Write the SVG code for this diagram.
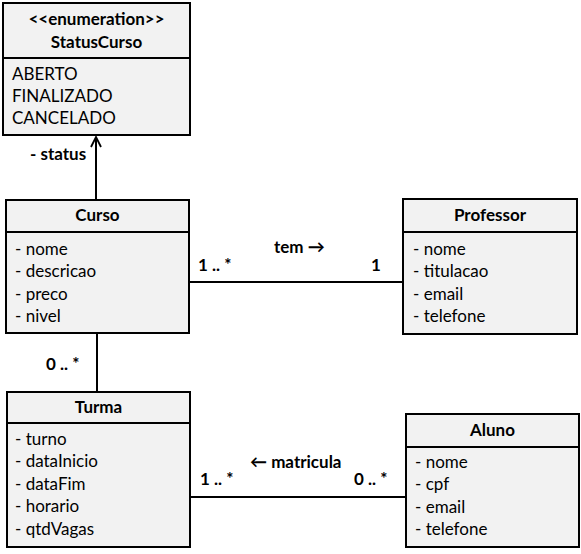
<svg xmlns="http://www.w3.org/2000/svg" width="581" height="554" viewBox="0 0 581 554">
<defs>
<style>
.box{fill:#f2f2f2;stroke:#000;stroke-width:2}
.sep{stroke:#000;stroke-width:2}
.t{font-family:Lato,"Liberation Sans",sans-serif;font-size:17px;fill:#000}
.b{font-weight:bold;font-size:17px}
.c{text-anchor:middle}
.line{stroke:#000;stroke-width:2;fill:none}
</style>
<marker id="open" viewBox="0 0 12 12" refX="11" refY="6" markerWidth="12" markerHeight="12" markerUnits="userSpaceOnUse" orient="auto">
<path d="M1,1 L11,6 L1,11" fill="none" stroke="#000" stroke-width="1.8"/>
</marker>
</defs>
<rect width="581" height="554" fill="#fff"/>
<g id="connectors">
<line class="line" x1="96" y1="200" x2="96" y2="137" marker-end="url(#open)"/>
<line class="line" x1="97" y1="333" x2="97" y2="392"/>
<line class="line" x1="189" y1="282" x2="403" y2="282"/>
<line class="line" x1="190" y1="497" x2="406" y2="497"/>
<text class="t b" x="30" y="160">- status</text>
<text class="t b" x="46" y="370">0 .. *</text>
<text class="t b" x="274" y="253">tem →</text>
<text class="t b" x="198" y="271">1 .. *</text>
<text class="t b" x="371" y="271">1</text>
<text class="t b" x="250" y="468">← matricula</text>
<text class="t b" x="200" y="485">1 .. *</text>
<text class="t b" x="354" y="485">0 .. *</text>
</g>
<g id="StatusCurso">
<rect class="box" x="3" y="3" width="187" height="132"/>
<line class="sep" x1="3" y1="58" x2="190" y2="58"/>
<text class="t b c" x="96.5" y="25">&lt;&lt;enumeration&gt;&gt;</text>
<text class="t b c" x="96.5" y="48">StatusCurso</text>
<text class="t" x="12" y="80">ABERTO</text>
<text class="t" x="12" y="102">FINALIZADO</text>
<text class="t" x="12" y="124">CANCELADO</text>
</g>
<g id="Curso">
<rect class="box" x="6" y="200" width="183" height="133"/>
<line class="sep" x1="6" y1="232" x2="189" y2="232"/>
<text class="t b c" x="97.5" y="221">Curso</text>
<text class="t" x="15" y="255">- nome</text>
<text class="t" x="15" y="277">- descricao</text>
<text class="t" x="15" y="300">- preco</text>
<text class="t" x="15" y="322">- nivel</text>
</g>
<g id="Professor">
<rect class="box" x="403" y="199" width="174" height="135"/>
<line class="sep" x1="403" y1="232" x2="577" y2="232"/>
<text class="t b c" x="490" y="221">Professor</text>
<text class="t" x="413" y="255">- nome</text>
<text class="t" x="413" y="277">- titulacao</text>
<text class="t" x="413" y="300">- email</text>
<text class="t" x="413" y="322">- telefone</text>
</g>
<g id="Turma">
<rect class="box" x="7" y="392" width="183" height="155"/>
<line class="sep" x1="7" y1="423" x2="190" y2="423"/>
<text class="t b c" x="98.5" y="413">Turma</text>
<text class="t" x="15" y="445">- turno</text>
<text class="t" x="15" y="467">- dataInicio</text>
<text class="t" x="15" y="490">- dataFim</text>
<text class="t" x="15" y="512">- horario</text>
<text class="t" x="15" y="535">- qtdVagas</text>
</g>
<g id="Aluno">
<rect class="box" x="406" y="414" width="173" height="133"/>
<line class="sep" x1="406" y1="447" x2="579" y2="447"/>
<text class="t b c" x="492.5" y="436">Aluno</text>
<text class="t" x="415" y="468">- nome</text>
<text class="t" x="415" y="490">- cpf</text>
<text class="t" x="415" y="513">- email</text>
<text class="t" x="415" y="535">- telefone</text>
</g>
</svg>
